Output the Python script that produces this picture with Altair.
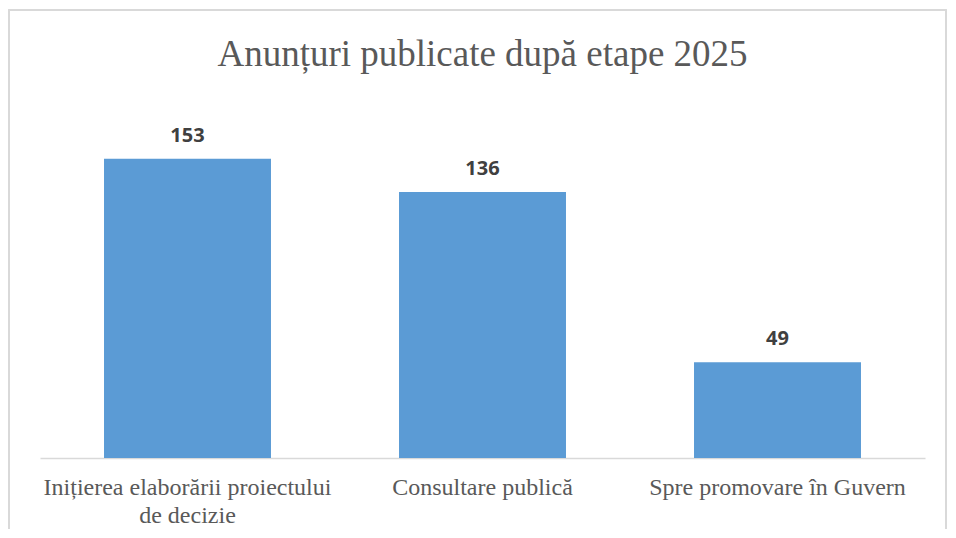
import altair as alt
import pandas as pd

categories = ["Inițierea elaborării proiectului\nde decizie", "Consultare publică", "Spre promovare în Guvern"]
values = [153, 136, 49]
title_text = "Anunțuri publicate după etape 2025"

df = pd.DataFrame({"etapa": categories, "n": values})

x_enc = alt.X(
    "etapa:N",
    sort=None,
    title=None,
    scale=alt.Scale(paddingInner=0.434, paddingOuter=0.217),
    axis=alt.Axis(
        labelAngle=0,
        labelExpr="split(datum.label, '\\n')",
        labelFont="Liberation Serif",
        labelFontSize=24,
        labelColor="#595959",
        labelPadding=17,
        labelLineHeight=28,
        labelLimit=400,
        ticks=False,
        domainColor="#d9d9d9",
        domainWidth=1.5,
        grid=False,
    ),
)
y_enc = alt.Y("n:Q", scale=alt.Scale(domain=[0, 180]), axis=None)

bars = alt.Chart(df).mark_bar(color="#5b9bd5").encode(x=x_enc, y=y_enc)
labels = alt.Chart(df).mark_text(
    font="Open Sans", fontWeight="bold", fontSize=20, color="#404040", dy=-17, baseline="alphabetic"
).encode(x=alt.X("etapa:N", sort=None), y="n:Q", text="n:Q")

frame = alt.Chart(df).mark_rect(fill=None, stroke="#d9d9d9", strokeWidth=1.5).encode(
    x=alt.value(-31), x2=alt.value(906), y=alt.value(-96), y2=alt.value(470)
)

chart = alt.layer(frame, bars, labels).properties(
    width=885,
    height=352,
    padding={"left": 32, "right": 23, "top": 98, "bottom": 71},
    autosize=alt.AutoSizeParams(type="none"),
    title=alt.TitleParams(
        title_text, font="Liberation Serif", fontSize=37, fontWeight="normal", color="#595959",
        anchor="middle", frame="group", baseline="alphabetic", offset=-94,
    ),
).configure(background="white", view=alt.ViewConfig(stroke=None))

chart.save("out.html", embed_options={"renderer": "svg", "actions": False})
